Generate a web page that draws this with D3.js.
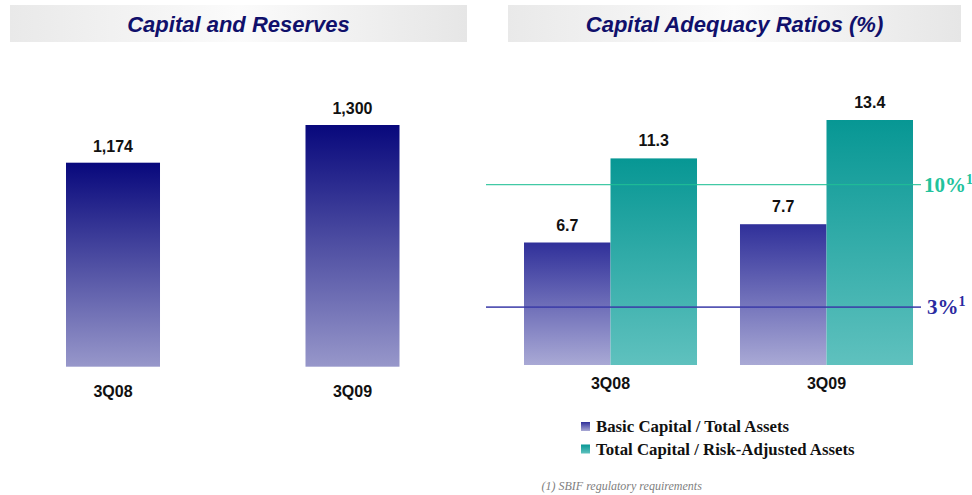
<!DOCTYPE html>
<html><head><meta charset="utf-8">
<script src="https://cdn.jsdelivr.net/npm/d3@7"></script>
<style>body{margin:0;background:#fff}svg{display:block}</style>
</head><body>
<svg id="c" width="972" height="495"></svg>
<script>
// Data
const capCategories = ["3Q08", "3Q09"];
const capValues = [1174, 1300];
const capLabels = ["1,174", "1,300"];

const ratioCategories = ["3Q08", "3Q09"];
const ratioSeries = ["Basic Capital / Total Assets", "Total Capital / Risk-Adjusted Assets"];
const basicValues = [6.7, 7.7];
const totalValues = [11.3, 13.4];
const thresholdValues = [10, 3];
const thresholdLabels = ["10%", "3%"];

const titles = ["Capital and Reserves", "Capital Adequacy Ratios (%)"];
const footnote = "(1) SBIF regulatory requirements";

const svg = d3.select("#c");
const defs = svg.append("defs");

function vgrad(id, top, bottom) {
  const g = defs.append("linearGradient").attr("id", id).attr("x1", 0).attr("y1", 0).attr("x2", 0).attr("y2", 1);
  g.append("stop").attr("offset", "0%").attr("stop-color", top);
  g.append("stop").attr("offset", "100%").attr("stop-color", bottom);
}
vgrad("gNavy", "#08087c", "#9797ca");
vgrad("gBasic", "#30309a", "#a9a9d5");
vgrad("gTeal", "#079794", "#5fc1be");
const hg = defs.append("linearGradient").attr("id", "gPanel").attr("x1", 0).attr("x2", 1).attr("y1", 0).attr("y2", 0);
hg.append("stop").attr("offset", "0%").attr("stop-color", "#e9e9e9");
hg.append("stop").attr("offset", "50%").attr("stop-color", "#fbfbfb");
hg.append("stop").attr("offset", "100%").attr("stop-color", "#e6e6e6");

// Title panels
const panels = [{x: 10, w: 457}, {x: 508, w: 453}];
panels.forEach((p, i) => {
  svg.append("rect").attr("x", p.x).attr("y", 5).attr("width", p.w).attr("height", 37).attr("fill", "url(#gPanel)");
  svg.append("text").attr("x", p.x + p.w / 2).attr("y", 32).attr("text-anchor", "middle")
    .attr("font-family", "Liberation Sans, Arial, sans-serif").attr("font-size", 22)
    .attr("font-weight", "bold").attr("font-style", "italic").attr("fill", "#10106b").text(titles[i]);
});

const lblFont = "Liberation Sans, Arial, sans-serif";

// Left chart
const xL = d3.scaleBand().domain(capCategories).range([66, 399.5]).paddingInner(0.6075).paddingOuter(0);
const yL = d3.scaleLinear().domain([492, 1300]).range([366.7, 125]);
const gL = svg.append("g");
gL.selectAll("rect").data(capValues).join("rect")
  .attr("x", (d, i) => xL(capCategories[i])).attr("width", xL.bandwidth())
  .attr("y", d => yL(d)).attr("height", d => yL(492) - yL(d)).attr("fill", "url(#gNavy)");
gL.selectAll("text.v").data(capValues).join("text").attr("class", "v")
  .attr("x", (d, i) => xL(capCategories[i]) + xL.bandwidth() / 2).attr("y", d => yL(d) - 11)
  .attr("text-anchor", "middle").attr("font-family", lblFont).attr("font-weight", "bold").attr("font-size", 16)
  .attr("fill", "#111").text((d, i) => capLabels[i]);
const axL = gL.append("g").attr("transform", "translate(0,366.7)").call(d3.axisBottom(xL).tickSize(0).tickPadding(19));
axL.select(".domain").remove();
axL.selectAll("text").attr("font-family", lblFont).attr("font-weight", "bold").attr("font-size", 16).attr("fill", "#111");

// Right chart
const x0 = d3.scaleBand().domain(ratioCategories).range([524, 913]).paddingInner(0.199).paddingOuter(0);
const x1 = d3.scaleBand().domain(ratioSeries).range([0, x0.bandwidth()]).padding(0);
const yR = d3.scaleLinear().domain([0, 13.4]).range([365, 120]);
const fills = ["url(#gBasic)", "url(#gTeal)"];
const gR = svg.append("g");
const rows = ratioCategories.map((c, i) => ({c, vals: [basicValues[i], totalValues[i]]}));
const grp = gR.selectAll("g.grp").data(rows).join("g").attr("class", "grp").attr("transform", d => `translate(${x0(d.c)},0)`);
grp.selectAll("rect").data(d => d.vals.map((v, j) => ({v, s: ratioSeries[j], j}))).join("rect")
  .attr("x", d => x1(d.s)).attr("width", x1.bandwidth()).attr("y", d => yR(d.v))
  .attr("height", d => yR(0) - yR(d.v)).attr("fill", d => fills[d.j]);
grp.selectAll("text").data(d => d.vals.map((v, j) => ({v, s: ratioSeries[j], j}))).join("text")
  .attr("x", d => x1(d.s) + x1.bandwidth() / 2).attr("y", d => yR(d.v) - 12)
  .attr("text-anchor", "middle").attr("font-family", lblFont).attr("font-weight", "bold").attr("font-size", 16)
  .attr("fill", "#111").text(d => d.v.toFixed(1));
const axR = gR.append("g").attr("transform", "translate(0,365)").call(d3.axisBottom(x0).tickSize(0).tickPadding(13));
axR.select(".domain").remove();
axR.selectAll("text").attr("font-family", lblFont).attr("font-weight", "bold").attr("font-size", 16).attr("fill", "#111");

// Threshold lines
const thColors = ["#22c29c", "#2a2aa0"];
const thLineColors = ["#20c096", "#3a3aa8"];
thresholdValues.forEach((t, i) => {
  const y = yR(t) + (i === 0 ? 2.5 : -3);
  gR.append("line").attr("x1", 486).attr("x2", 921).attr("y1", y).attr("y2", y)
    .attr("stroke", thLineColors[i]).attr("stroke-width", i === 0 ? 1.3 : 1.6).attr("opacity", 0.85);
  const tx = gR.append("text").attr("x", i === 0 ? 924 : 927).attr("y", y + 7)
    .attr("font-family", "Liberation Serif, Times New Roman, serif").attr("font-weight", "bold")
    .attr("font-size", 21).attr("fill", thColors[i]);
  tx.append("tspan").text(thresholdLabels[i]);
  tx.append("tspan").attr("dy", -8).attr("font-size", 14).text("1");
});

// Legend
const lg = svg.append("g");
ratioSeries.forEach((s, i) => {
  const y = 422 + i * 22.5;
  lg.append("rect").attr("x", 581).attr("y", y).attr("width", 9).attr("height", 9).attr("fill", fills[i]);
  lg.append("text").attr("x", 596).attr("y", y + 10).attr("font-family", "Liberation Serif, Times New Roman, serif")
    .attr("font-weight", "bold").attr("font-size", 16.8).attr("fill", "#111").text(s);
});

svg.append("text").attr("x", 541.5).attr("y", 489.5).attr("font-family", "Liberation Serif, Times New Roman, serif")
  .attr("font-style", "italic").attr("font-size", 12).attr("fill", "#808080").text(footnote);
</script>
</body></html>
